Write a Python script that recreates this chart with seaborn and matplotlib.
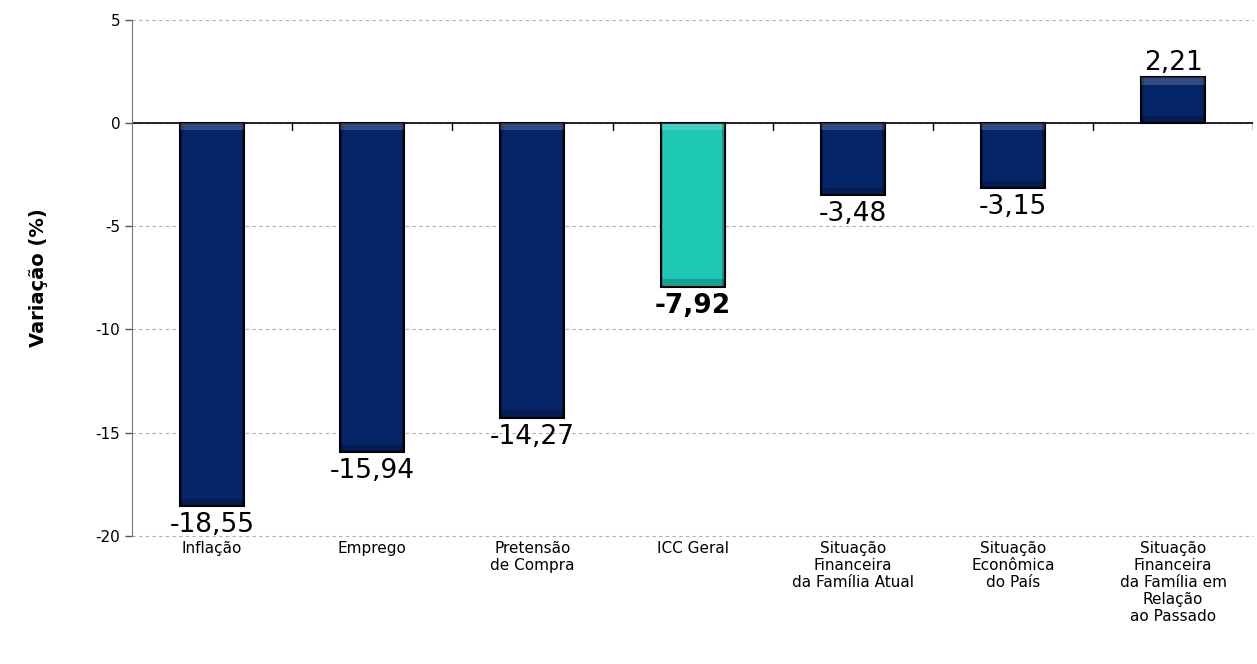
import matplotlib
matplotlib.use("Agg")
import matplotlib.pyplot as plt
import seaborn as sns
import pandas as pd
from matplotlib.patches import Rectangle

categories = ["Inflação", "Emprego", "Pretensão\nde Compra", "ICC Geral",
              "Situação\nFinanceira\nda Família Atual", "Situação\nEconômica\ndo País",
              "Situação\nFinanceira\nda Família em\nRelação\nao Passado"]
values = [-18.55, -15.94, -14.27, -7.92, -3.48, -3.15, 2.21]
labels = ["-18,55", "-15,94", "-14,27", "-7,92", "-3,48", "-3,15", "2,21"]
highlight = "ICC Geral"

navy = "#062468"
teal = "#1ec8b5"

df = pd.DataFrame({"cat": categories, "val": values})
palette = {c: (teal if c == highlight else navy) for c in categories}

sns.set_style("white")
plt.rcParams['font.family'] = ['DejaVu Sans']
plt.rcParams['text.color'] = 'black'
plt.rcParams['axes.labelcolor'] = 'black'
plt.rcParams['xtick.color'] = 'black'
plt.rcParams['ytick.color'] = 'black'

fig = plt.figure(figsize=(12.57, 6.64), dpi=100)
ax = fig.add_axes([0.105, 0.193, 0.892, 0.777])

sns.barplot(data=df, x="cat", y="val", hue="cat", palette=palette, legend=False,
            width=0.4, edgecolor="black", linewidth=1.5, saturation=1, ax=ax, zorder=3)

# simple bevel effect on the bars
for p in list(ax.patches):
    x0, y0 = p.get_x(), p.get_y()
    w, h = p.get_width(), p.get_height()
    top, bot = max(y0, y0 + h), min(y0, y0 + h)
    bev = 0.35
    ax.add_patch(Rectangle((x0, top - bev), w, bev, facecolor="white", alpha=0.18,
                           edgecolor="none", zorder=4))
    ax.add_patch(Rectangle((x0, bot), w, bev, facecolor="black", alpha=0.2,
                           edgecolor="none", zorder=4))
    ax.add_patch(Rectangle((x0, bot), w * 0.04, top - bot, facecolor="black", alpha=0.15,
                           edgecolor="none", zorder=4))
    ax.add_patch(Rectangle((x0 + w * 0.96, bot), w * 0.04, top - bot, facecolor="black",
                           alpha=0.25, edgecolor="none", zorder=4))

# value labels
for i, (v, lab) in enumerate(zip(values, labels)):
    bold = categories[i] == highlight
    if v < 0:
        ax.text(i, v - 0.3, lab, ha="center", va="top", fontsize=19,
                fontweight="bold" if bold else "normal", zorder=5)
    else:
        ax.text(i, v + 0.05, lab, ha="center", va="bottom", fontsize=19, zorder=5)

ax.set_ylim(-20, 5)
ax.set_xlim(-0.5, len(categories) - 0.5)
ax.set_yticks([-20, -15, -10, -5, 0, 5])
ax.set_yticklabels(["-20", "-15", "-10", "-5", "0", "5"], fontsize=11)
ax.yaxis.grid(True, linestyle=(0, (3, 3)), color="#b0b0b0", linewidth=0.8, zorder=0)
for gl in ax.get_ygridlines():
    gl.set_clip_on(False)
ax.axhline(0, color="black", linewidth=1.2, zorder=2)

# category boundary ticks on the zero line
for b in range(1, len(categories) + 1):
    ax.plot([b - 0.5, b - 0.5], [0, -0.35], color="black", linewidth=1, zorder=2)

ax.set_xticks(range(len(categories)))
ax.set_xticklabels(categories, fontsize=11, va="top", linespacing=1.15)
ax.tick_params(axis="x", length=0, pad=4)
ax.tick_params(axis="y", length=5, left=True, color="#555555", width=1)
ax.set_xlabel("")
ax.set_ylabel("Variação (%)", fontsize=14, fontweight="bold", labelpad=34)

for s in ["top", "right", "bottom"]:
    ax.spines[s].set_visible(False)
ax.spines["left"].set_color("#777777")

fig.savefig("out.png", dpi=100)
